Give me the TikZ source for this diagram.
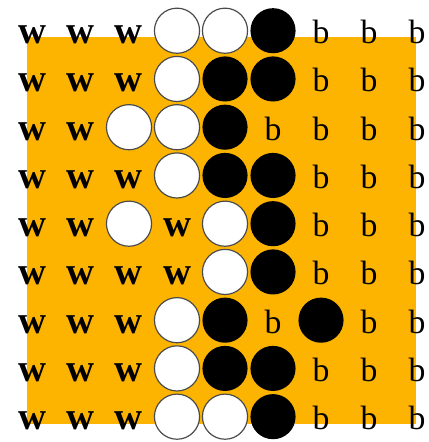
\documentclass[tikz,border=0pt]{standalone}
\usepackage{fontspec}
\setmainfont{Liberation Serif}
\definecolor{board}{HTML}{FDB400}
\definecolor{rim}{HTML}{4A4A4A}

\begin{document}
\begin{tikzpicture}[
  stone/.style={circle,minimum size=0.94cm,inner sep=0pt},
  owner/.style={inner sep=0pt,anchor=base,yshift=-0.27cm,
    font=\fontsize{20}{20}\selectfont},
  cell w/.style={owner,font=\bfseries\fontsize{23}{23}\selectfont,node contents=w},
  cell b/.style={owner,node contents=b},
  cell o/.style={stone,draw=rim,fill=white,line width=0.7pt,node contents={}},
  cell x/.style={stone,fill=black,node contents={}}]
  \useasboundingbox (0,0) rectangle (8.917,-9.208);

  % board area
  \fill[board] (0.5625,-0.771) rectangle (8.667,-8.833);

  % o = white stone, x = black stone, w/b = empty point owned by white/black
  \foreach \row [count=\j] in {
      {w,w,w,o,o,x,b,b,b},
      {w,w,w,o,x,x,b,b,b},
      {w,w,o,o,x,b,b,b,b},
      {w,w,w,o,x,x,b,b,b},
      {w,w,o,w,o,x,b,b,b},
      {w,w,w,w,o,x,b,b,b},
      {w,w,w,o,x,b,x,b,b},
      {w,w,w,o,x,x,b,b,b},
      {w,w,w,o,o,x,b,b,b}}
    \foreach \c [count=\i] in \row
      \node (p-\j-\i) at ({0.6875+\i-1},{-0.64-(\j-1)*1.005}) [cell \c];
\end{tikzpicture}
\end{document}
